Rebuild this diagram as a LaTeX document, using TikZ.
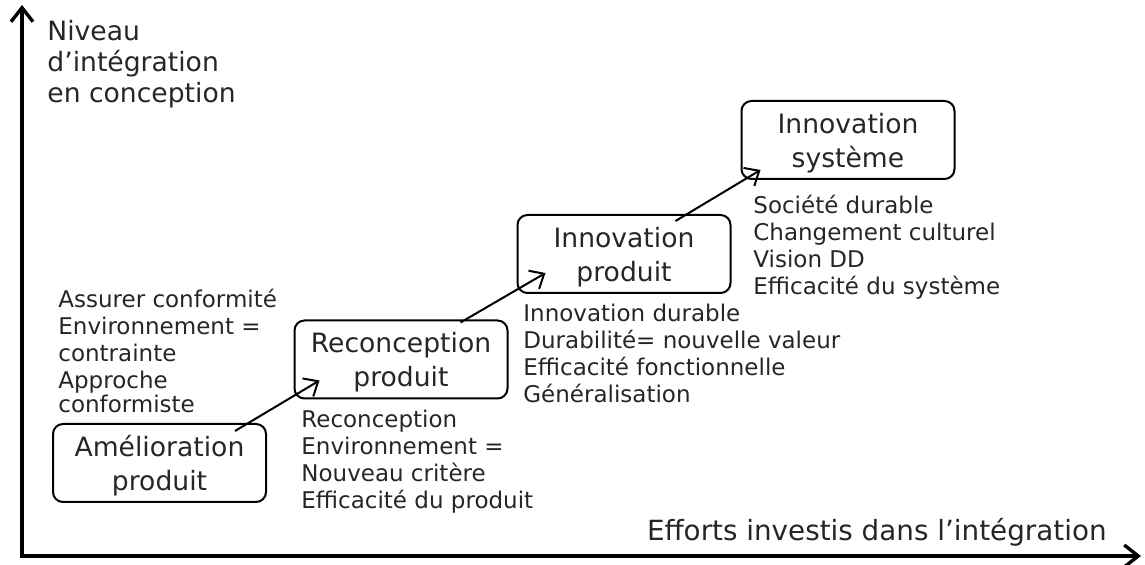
\documentclass[tikz,border=0pt]{standalone}
\usepackage{fontspec}
\setmainfont{DejaVu Sans}
\usetikzlibrary{positioning,calc,arrows.meta}
\definecolor{txtgray}{HTML}{262626}

\begin{document}
\begin{tikzpicture}[x=0.5pt, y=-0.5pt,
    every node/.style={text=txtgray, inner sep=0pt},
    stage/.style={draw=black, line width=1pt, rounded corners=5pt, align=center,
      minimum width=106.5pt, minimum height=39pt, text depth=0pt,
      font=\fontsize{13.3}{17}\selectfont},
    note/.style={anchor=base west, align=left, font=\fontsize{11.5}{13.5}\selectfont},
    axis/.style={line width=1.7pt, {Straight Barb[length=7pt,width=11pt]}-{Straight Barb[length=7pt,width=11pt]}},
    link/.style={line width=1pt, -{Straight Barb[length=6pt,width=10.5pt]}}]
  \useasboundingbox (0,0) rectangle (1145,565);

  % axes
  \coordinate (ytop) at (22,5);
  \coordinate (origin) at (22,556);
  \coordinate (xend) at (1141,556);
  \draw[axis] (ytop) -- (origin) -- (xend);
  % multi-line nodes: base is the last line
  \node[anchor=base west, align=left, font=\fontsize{13.3}{15.5}\selectfont] (ylab) at (47,103)
    {Niveau\\d’intégration\\en conception};
  \node[anchor=base east, font=\fontsize{13.9}{16}\selectfont] (xlab) at (1107,541)
    {Efforts investis dans l’intégration};

  % stages
  \foreach \n/\x/\y/\t in {amel/159.5/463/{Amélioration\\produit},
                           recon/401/359.5/{Reconception\\produit},
                           iprod/624/254/{Innovation\\produit},
                           isys/848/140/{Innovation\\système}} {
    \node[stage] (\n) at (\x,\y) {\t};
  }

  \draw[link] ($(amel.north east)+(-32,8)$) -- ($(recon.south west)+(26,-19)$);
  \draw[link] ($(recon.north east)+(-48,3)$) -- ($(iprod.south west)+(29,-21)$);
  \draw[link] ($(iprod.north east)+(-56,7)$) -- ($(isys.south west)+(20,-10)$);

  % descriptions
  \node[note] (amel-a) at (58,362) {Assurer conformité\\Environnement =\\contrainte};
  \node[note, font=\fontsize{11.5}{12}\selectfont] (amel-b) at (58,413) {Approche\\conformiste};
  \node[note] (recon-t) at (301,509)
    {Reconception\\Environnement =\\Nouveau critère\\Efficacité du produit};
  \node[note] (iprod-t) at (523,403)
    {Innovation durable\\Durabilité= nouvelle valeur\\Efficacité fonctionnelle\\Généralisation};
  \node[note] (isys-t) at (753,295)
    {Société durable\\Changement culturel\\Vision DD\\Efficacité du système};
\end{tikzpicture}
\end{document}
